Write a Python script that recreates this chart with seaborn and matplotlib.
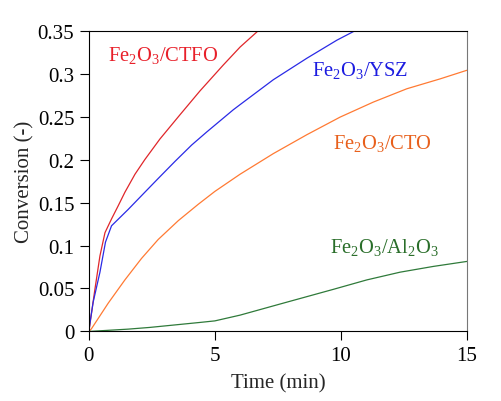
import matplotlib
matplotlib.use("Agg")
import matplotlib.pyplot as plt
import seaborn as sns
import pandas as pd

# Data
ctfo_t = [0, 0.04, 0.24, 0.44, 0.64, 0.9, 1.16, 1.43, 1.83, 2.22, 2.82, 3.61, 4.41, 5.33, 6.0, 6.72, 6.9]
ctfo_x = [0, 0.008, 0.049, 0.088, 0.115, 0.131, 0.146, 0.162, 0.183, 0.200, 0.224, 0.252, 0.280, 0.310, 0.331, 0.350, 0.355]

ysz_t = [0, 0.04, 0.17, 0.44, 0.66, 0.9, 1.56, 2.22, 2.75, 3.42, 4.08, 4.67, 5.73, 6.0, 7.32, 8.65, 9.84, 10.56, 10.8]
ysz_x = [0, 0.009, 0.034, 0.069, 0.104, 0.123, 0.142, 0.162, 0.178, 0.198, 0.217, 0.232, 0.258, 0.264, 0.293, 0.318, 0.339, 0.350, 0.354]

cto_t = [0, 0.1, 0.77, 1.43, 2.09, 2.75, 3.55, 4.34, 5.0, 6.0, 7.32, 8.65, 9.97, 11.29, 12.62, 13.94, 15]
cto_x = [0, 0.003, 0.033, 0.060, 0.085, 0.107, 0.129, 0.148, 0.163, 0.183, 0.207, 0.229, 0.2495, 0.267, 0.2825, 0.294, 0.304]

al_t = [0, 1.56, 2.42, 4.41, 5.0, 6.0, 7.72, 9.7, 11.03, 12.35, 13.67, 15]
al_x = [0, 0.0027, 0.0047, 0.0105, 0.0123, 0.019, 0.033, 0.049, 0.060, 0.069, 0.0757, 0.0815]

series = ["CTFO", "YSZ", "CTO", "Al2O3"]
line_colors = ["#e0262a", "#2a2ae6", "#ff7a33", "#2f7a3a"]
text_colors = ["#e8202a", "#1c1ce0", "#e8601c", "#2a6e2a"]
labels = [r"$\mathregular{Fe_2O_3/CTFO}$", r"$\mathregular{Fe_2O_3/YSZ}$",
          r"$\mathregular{Fe_2O_3/CTO}$", r"$\mathregular{Fe_2O_3/Al_2O_3}$"]
label_pos = [(0.75, 0.316), (8.84, 0.298), (9.69, 0.214), (9.57, 0.093)]

frames = []
for name, t, x in zip(series, [ctfo_t, ysz_t, cto_t, al_t], [ctfo_x, ysz_x, cto_x, al_x]):
    frames.append(pd.DataFrame({"Time": t, "Conversion": x, "Sample": name}))
df = pd.concat(frames, ignore_index=True)

sns.set_style("ticks")
plt.rcParams["font.family"] = ["Liberation Serif", "DejaVu Serif"]
plt.rcParams["mathtext.fontset"] = "stix"

fig = plt.figure(figsize=(5.02, 4.02), dpi=100)
ax = fig.add_axes([0.177, 0.173, 0.753, 0.748])

sns.lineplot(data=df, x="Time", y="Conversion", hue="Sample", hue_order=series,
             palette=line_colors, linewidth=0.9, legend=False, ax=ax, sort=False)

for lab, (px, py), c in zip(labels, label_pos, text_colors):
    ax.text(px, py, lab, color=c, fontsize=14.8, va="baseline", ha="left")

ax.set_xlim(0, 15)
ax.set_ylim(0, 0.35)
ax.set_xticks([0, 5, 10, 15])
ax.set_xticklabels(["0", "5", "10", "15"])
yt = [0, 0.05, 0.1, 0.15, 0.2, 0.25, 0.3, 0.35]
ax.set_yticks(yt)
ax.set_yticklabels(["0", "0.05", "0.1", "0.15", "0.2", "0.25", "0.3", "0.35"])
ax.tick_params(direction="out", length=6.5, width=0.8, labelsize=15, colors="black", pad=4)
ax.set_xlabel("Time (min)", fontsize=15, labelpad=6)
ax.set_ylabel("Conversion (-)", fontsize=15, labelpad=2)
for s in ax.spines.values():
    s.set_visible(True)
    s.set_linewidth(0.8)
    s.set_color("black")
ax.spines["right"].set_color("#777777")

fig.savefig("out.png", dpi=100)
